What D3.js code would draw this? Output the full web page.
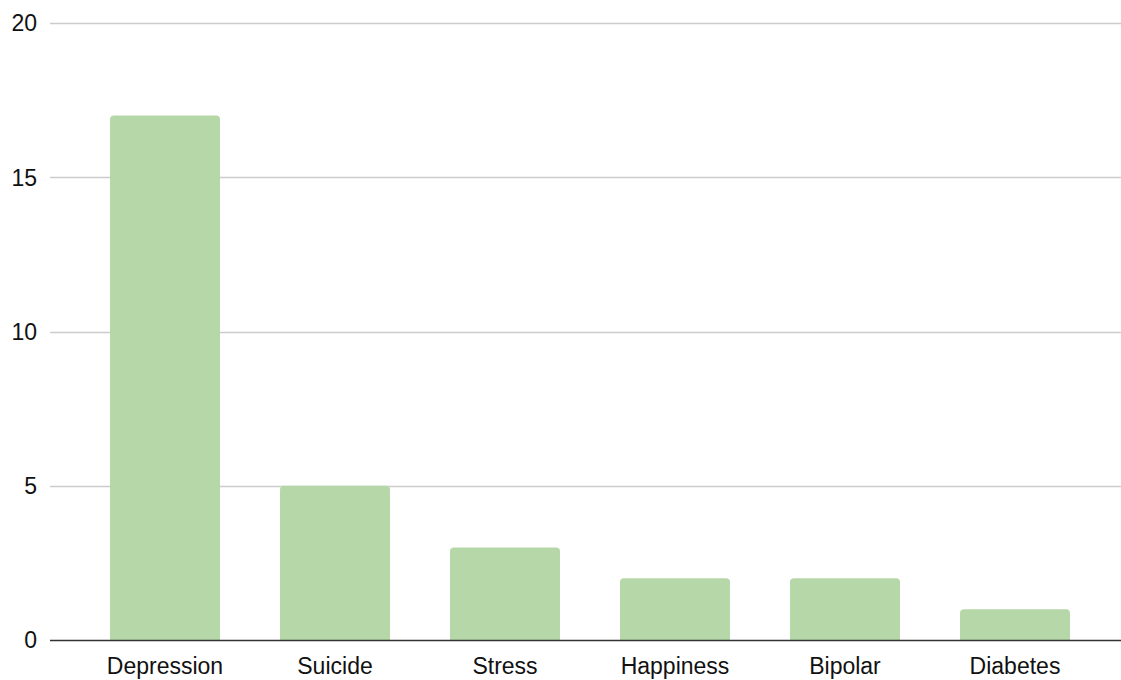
<!DOCTYPE html>
<html>
<head>
<meta charset="utf-8">
<script src="https://cdn.jsdelivr.net/npm/d3@7"></script>
<style>
  body { margin: 0; background: #fff; }
  svg { display: block; font-family: "Liberation Sans", Arial, sans-serif; }
</style>
</head>
<body>
<svg id="chart"></svg>
<script>
// chart data
const categories = ['Depression', 'Suicide', 'Stress', 'Happiness', 'Bipolar', 'Diabetes'];
const counts = [17, 5, 3, 2, 2, 1];
const yTicks = [0, 5, 10, 15, 20];

const width = 1121, height = 680;

const svg = d3.select('#chart')
    .attr('width', width)
    .attr('height', height);

// scales
const x = d3.scaleBand()
    .domain(categories)
    .range([80, 1100])
    .paddingInner(60 / 170)
    .paddingOuter(30 / 170);

const y = d3.scaleLinear()
    .domain([0, 20])
    .range([640, 23]);

// horizontal gridlines
svg.append('g')
    .selectAll('line')
    .data(yTicks.filter(d => d > 0))
    .join('line')
    .attr('x1', 50)
    .attr('x2', 1121)
    .attr('y1', d => Math.round(y(d)) + 0.5)
    .attr('y2', d => Math.round(y(d)) + 0.5)
    .attr('stroke', '#cccccc')
    .attr('stroke-width', 1.3);

// y tick labels
svg.append('g')
    .selectAll('text')
    .data(yTicks)
    .join('text')
    .attr('x', 37)
    .attr('y', d => y(d))
    .attr('dy', '0.36em')
    .attr('text-anchor', 'end')
    .attr('font-size', 23)
    .attr('fill', '#111')
    .text(d => d);

// bars with rounded top corners
const r = 4;
function barPath(x0, y0, w, h) {
    return `M${x0},${y0 + h}V${y0 + r}Q${x0},${y0} ${x0 + r},${y0}` +
        `H${x0 + w - r}Q${x0 + w},${y0} ${x0 + w},${y0 + r}V${y0 + h}Z`;
}

svg.append('g')
    .selectAll('path')
    .data(categories.map((c, i) => ({cat: c, value: counts[i]})))
    .join('path')
    .attr('fill', '#b6d7a8')
    .attr('d', d => barPath(x(d.cat), y(d.value), x.bandwidth(), y(0) - y(d.value)));

// baseline
svg.append('line')
    .attr('x1', 50)
    .attr('x2', 1121)
    .attr('y1', y(0) + 0.5)
    .attr('y2', y(0) + 0.5)
    .attr('stroke', '#333')
    .attr('stroke-width', 1.5);

// x labels
svg.append('g')
    .selectAll('text')
    .data(categories)
    .join('text')
    .attr('x', d => x(d) + x.bandwidth() / 2)
    .attr('y', 674)
    .attr('text-anchor', 'middle')
    .attr('font-size', 23)
    .attr('fill', '#111')
    .text(d => d);
</script>
</body>
</html>
